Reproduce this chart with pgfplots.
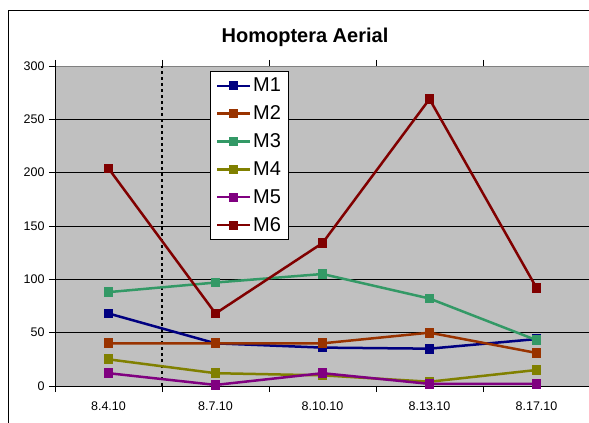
\documentclass[border=0pt]{standalone}
\usepackage{fontspec}
\setmainfont{Liberation Sans}
\usepackage{pgfplots}
\pgfplotsset{compat=1.18}

\definecolor{bggray}{RGB}{192,192,192}
\definecolor{mone}{RGB}{0,0,128}
\definecolor{mtwo}{RGB}{153,51,0}
\definecolor{mthree}{RGB}{51,153,102}
\definecolor{mfour}{RGB}{128,128,0}
\definecolor{mfive}{RGB}{128,0,128}
\definecolor{msix}{RGB}{128,0,0}

\begin{document}
\begin{tikzpicture}
\begin{axis}[
    at={(0,0)}, anchor=south west,
    scale only axis,
    width=535pt, height=320pt,
    xmin=-0.5, xmax=4.5,
    ymin=0, ymax=300,
    axis background/.style={fill=bggray},
    axis line style={draw=gray},
    xtick={0,1,2,3,4},
    xticklabels={8.4.10,8.7.10,8.10.10,8.13.10,8.17.10},
    major x tick style={draw=none},
    minor xtick={-0.5,0.5,1.5,2.5,3.5,4.5},
    minor x tick style={black, line width=0.6pt},
    ytick={0,50,...,300},
    major y tick style={black, line width=0.6pt},
    tick align=outside,
    major tick length=6pt,
    minor tick length=6pt,
    ymajorgrids,
    major grid style={black, line width=0.7pt},
    tick label style={font=\fontsize{12.5}{14}\selectfont},
    /pgf/number format/assume math mode=true,
    xticklabel style={yshift=-6pt},
    yticklabel style={xshift=-1pt},
    legend style={at={(0.2897,0.983)}, anchor=north west, draw=black, fill=white,
        font=\fontsize{20}{21}\selectfont, row sep=9.5pt, inner xsep=6pt, inner ysep=5pt,
        nodes={inner sep=1.5pt}},
    legend cell align=left,
    legend image code/.code={
        \draw[mark repeat=2, mark phase=2, mark size=3.2pt] plot coordinates {(0cm,0cm) (0.58cm,0cm) (1.16cm,0cm)};},
    every axis plot/.append style={line width=2.5pt, mark=square*, mark size=3.6pt},
]
\addplot [black, line width=2.8pt, dash pattern=on 3pt off 3pt, mark=none, forget plot]
    coordinates {(0.5,0) (0.5,300)};
\addplot [mone, mark options={fill=mone}] coordinates {(0,68) (1,40) (2,36) (3,35) (4,44)};
\addlegendentry{M1}
\addplot [mtwo, mark options={fill=mtwo}] coordinates {(0,40) (1,40) (2,40) (3,50) (4,31)};
\addlegendentry{M2}
\addplot [mthree, mark options={fill=mthree}] coordinates {(0,88) (1,97) (2,105) (3,82) (4,43)};
\addlegendentry{M3}
\addplot [mfour, mark options={fill=mfour}] coordinates {(0,25) (1,12) (2,10) (3,4) (4,15)};
\addlegendentry{M4}
\addplot [mfive, mark options={fill=mfive}] coordinates {(0,12) (1,1) (2,12) (3,2) (4,2)};
\addlegendentry{M5}
\addplot [msix, mark options={fill=msix}] coordinates {(0,204) (1,68) (2,134) (3,269) (4,92)};
\addlegendentry{M6}
\draw[black, line width=0.8pt] (axis description cs:0,1) -- (axis description cs:0,0) -- (axis description cs:1,0);
\end{axis}
\node[font=\bfseries\fontsize{20}{22}\selectfont] at (250pt,349pt) {Homoptera Aerial};
\draw[black, line width=1pt] (-46pt,-45pt) rectangle (545pt,375pt);
\pgfresetboundingbox
\useasboundingbox (-55pt,-37pt) rectangle (534pt,386pt);
\end{tikzpicture}
\end{document}
